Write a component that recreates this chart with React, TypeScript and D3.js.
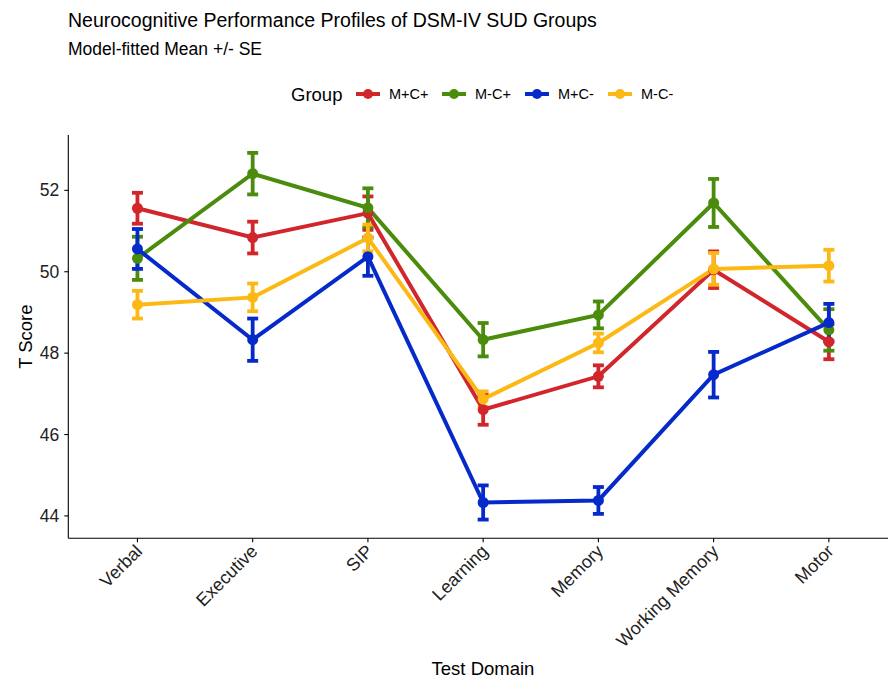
import React from 'react';
import * as d3 from 'd3';

const categories = ['Verbal', 'Executive', 'SIP', 'Learning', 'Memory', 'Working Memory', 'Motor'];
const groups = ['M+C+', 'M-C+', 'M+C-', 'M-C-'];
const groupColors = ['#d1262b', '#4b8c0c', '#0629c9', '#fcb916'];

// model-fitted means per group, in category order
const meanMCpos = [51.56, 50.84, 51.44, 46.61, 47.43, 50.05, 48.28];
const meanMnegCpos = [50.33, 52.41, 51.57, 48.33, 48.94, 51.69, 48.57];
const meanMposCneg = [50.56, 48.33, 50.37, 44.33, 44.38, 47.47, 48.75];
const meanMnegCneg = [49.19, 49.37, 50.83, 46.87, 48.25, 50.07, 50.15];

// standard errors
const seMCpos = [0.38, 0.39, 0.41, 0.37, 0.27, 0.45, 0.43];
const seMnegCpos = [0.53, 0.51, 0.48, 0.41, 0.33, 0.59, 0.51];
const seMposCneg = [0.49, 0.52, 0.47, 0.42, 0.33, 0.56, 0.46];
const seMnegCneg = [0.34, 0.34, 0.33, 0.19, 0.23, 0.39, 0.39];

const yTicks = [44, 46, 48, 50, 52];

const W = 888;
const H = 678;
const FONT = '"Liberation Sans", Arial, sans-serif';

export default function App() {
  const means = [meanMCpos, meanMnegCpos, meanMposCneg, meanMnegCneg];
  const ses = [seMCpos, seMnegCpos, seMposCneg, seMnegCneg];

  // panel runs past the right edge of the picture
  const left = 68.3, right = 898, top = 135, bottom = 538.3;

  const x = d3.scalePoint<string>().domain(categories).range([left, right]).padding(0.6);
  const y = d3.scaleLinear().domain([43.45, 53.36]).range([bottom, top]);

  const line = d3.line<number>()
    .x((_, i) => x(categories[i]) as number)
    .y(d => y(d));

  const capW = 5.5;

  // legend layout
  const legendY = 94;
  const legendKeys = [356, 442, 525, 608];

  return (
    <div style={{ position: 'fixed', left: 0, top: 0 }}>
      <svg width={W} height={H} style={{ display: 'block', background: '#fff' }} fontFamily={FONT}>
        {/* titles */}
        <text x={68} y={27} fontSize={19.5} fill="#000">Neurocognitive Performance Profiles of DSM-IV SUD Groups</text>
        <text x={68} y={55} fontSize={17.5} fill="#000">Model-fitted Mean +/- SE</text>

        {/* legend */}
        <text x={291} y={legendY + 6.5} fontSize={18.5} fill="#000">Group</text>
        {groups.map((g, i) => (
          <g key={g}>
            <line x1={legendKeys[i]} x2={legendKeys[i] + 24} y1={legendY} y2={legendY}
              stroke={groupColors[i]} strokeWidth={4} />
            <circle cx={legendKeys[i] + 12} cy={legendY} r={5} fill={groupColors[i]} />
            <text x={legendKeys[i] + 33} y={legendY + 5} fontSize={14.5} fill="#000">{g}</text>
          </g>
        ))}

        {/* axes */}
        <line x1={left} x2={left} y1={top} y2={bottom} stroke="#000" strokeWidth={1.1} />
        <line x1={left} x2={W} y1={bottom} y2={bottom} stroke="#000" strokeWidth={1.1} />
        {yTicks.map(t => (
          <g key={t}>
            <line x1={left - 4} x2={left} y1={y(t)} y2={y(t)} stroke="#000" strokeWidth={1.1} />
            <text x={left - 9} y={y(t) + 6} fontSize={17.5} textAnchor="end" fill="#222">{t}</text>
          </g>
        ))}
        {categories.map(c => (
          <g key={c}>
            <line x1={x(c)} x2={x(c)} y1={bottom} y2={bottom + 4} stroke="#000" strokeWidth={1.1} />
            <text transform={`translate(${(x(c) as number) + 6},${bottom + 14}) rotate(-45)`}
              fontSize={18} textAnchor="end" fill="#222">{c}</text>
          </g>
        ))}
        <text transform={`translate(32,${(top + bottom) / 2}) rotate(-90)`} fontSize={18.5}
          textAnchor="middle" fill="#000">T Score</text>
        <text x={483} y={675} fontSize={18.5} textAnchor="middle" fill="#000">Test Domain</text>

        {/* error bars */}
        {groups.map((g, gi) => (
          <g key={'e' + g} stroke={groupColors[gi]} strokeWidth={3.8}>
            {means[gi].map((m, i) => {
              const cx = x(categories[i]) as number;
              const lo = y(m - ses[gi][i]);
              const hi = y(m + ses[gi][i]);
              return (
                <g key={i}>
                  <line x1={cx} x2={cx} y1={lo} y2={hi} />
                  <line x1={cx - capW} x2={cx + capW} y1={lo} y2={lo} />
                  <line x1={cx - capW} x2={cx + capW} y1={hi} y2={hi} />
                </g>
              );
            })}
          </g>
        ))}

        {/* lines */}
        {groups.map((g, gi) => (
          <path key={'l' + g} d={line(means[gi]) || ''} fill="none" stroke={groupColors[gi]}
            strokeWidth={4} />
        ))}

        {/* points */}
        {groups.map((g, gi) => (
          <g key={'p' + g} fill={groupColors[gi]}>
            {means[gi].map((m, i) => (
              <circle key={i} cx={x(categories[i])} cy={y(m)} r={5.5} />
            ))}
          </g>
        ))}
      </svg>
    </div>
  );
}
